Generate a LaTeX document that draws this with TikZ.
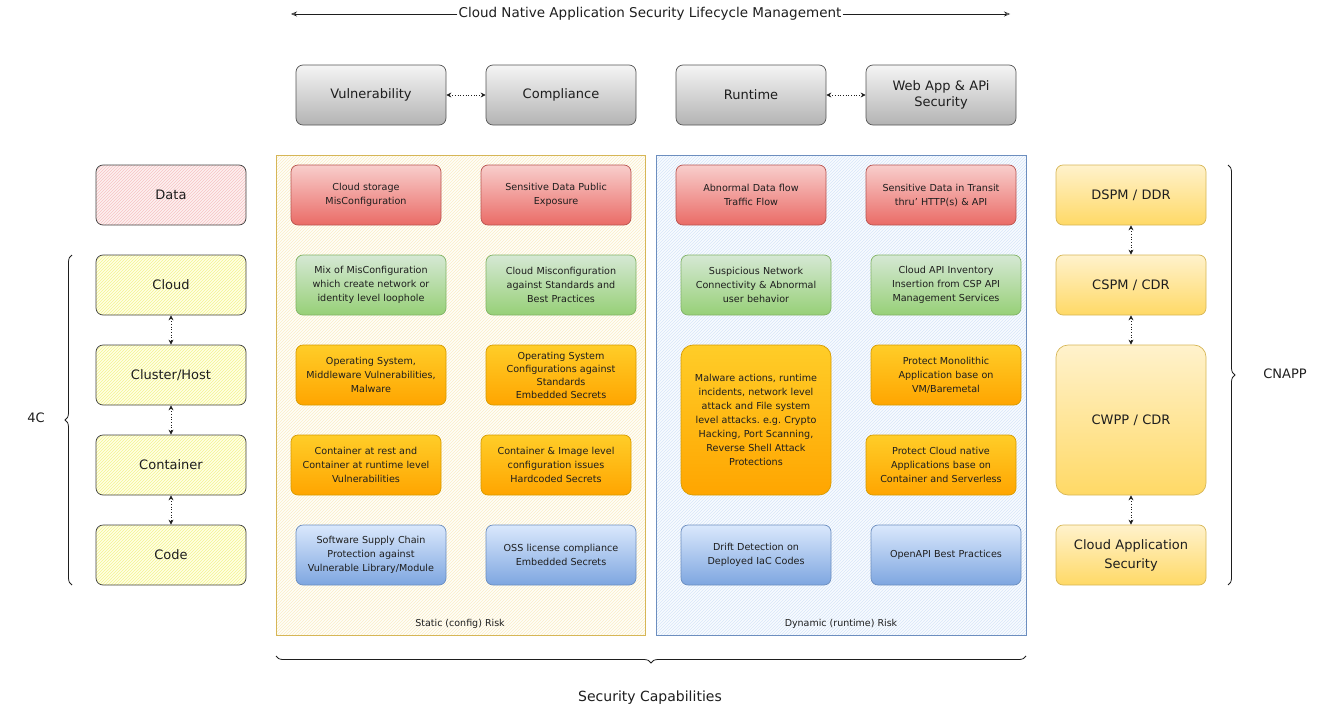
\documentclass[tikz,border=0pt]{standalone}
\usepackage{fontspec}
\setmainfont{DejaVu Sans}
\frenchspacing
\usetikzlibrary{arrows.meta,patterns,decorations.pathreplacing}
\definecolor{redT}{HTML}{F8CECC}\definecolor{redB}{HTML}{EA6B66}\definecolor{redD}{HTML}{B85450}
\definecolor{grnT}{HTML}{D5E8D4}\definecolor{grnB}{HTML}{97D077}\definecolor{grnD}{HTML}{82B366}
\definecolor{orgT}{HTML}{FFCD28}\definecolor{orgB}{HTML}{FFA500}\definecolor{orgD}{HTML}{D79B00}
\definecolor{bluT}{HTML}{DAE8FC}\definecolor{bluB}{HTML}{7EA6E0}\definecolor{bluD}{HTML}{6C8EBF}
\definecolor{gryT}{HTML}{F5F5F5}\definecolor{gryB}{HTML}{B3B3B3}\definecolor{gryD}{HTML}{555555}
\definecolor{ylwT}{HTML}{FFF2CC}\definecolor{ylwB}{HTML}{FFD966}\definecolor{ylwD}{HTML}{D6B656}
\definecolor{pinkF}{HTML}{FDF0F0}\definecolor{pinkP}{HTML}{F6C4C4}
\definecolor{lemF}{HTML}{FFFFE4}\definecolor{lemP}{HTML}{F4F490}
\definecolor{statF}{HTML}{FFFEF9}\definecolor{statP}{HTML}{FBEDC8}
\definecolor{dynF}{HTML}{F8FBFF}\definecolor{dynP}{HTML}{D8E6F8}
\definecolor{ink}{HTML}{1E1E1E}
\tikzset{
  cbox/.style={rectangle, rounded corners=7pt, minimum width=150pt, minimum height=60pt,
    align=center, text width=148pt, inner sep=1pt, font=\fontsize{9.6}{14}\selectfont, text=ink, line width=0.7pt},
  redbox/.style={cbox, top color=redT, bottom color=redB, draw=redD},
  grnbox/.style={cbox, top color=grnT, bottom color=grnB, draw=grnD},
  orgbox/.style={cbox, top color=orgT, bottom color=orgB, draw=orgD},
  blubox/.style={cbox, top color=bluT, bottom color=bluB, draw=bluD},
  grybox/.style={cbox, top color=gryT, bottom color=gryB, draw=gryD, font=\fontsize{13}{16}\selectfont},
  ylwbox/.style={cbox, top color=ylwT, bottom color=ylwB, draw=ylwD, font=\fontsize{13}{19}\selectfont},
  pinkbox/.style={cbox, preaction={fill=pinkF}, pattern=north east lines, pattern color=pinkP, draw=ink!85, font=\fontsize{13}{16}\selectfont},
  lembox/.style={cbox, preaction={fill=lemF}, pattern=north east lines, pattern color=lemP, draw=ink!85, font=\fontsize{13}{16}\selectfont},
  darr/.style={{Stealth[length=5pt,width=5pt]}-{Stealth[length=5pt,width=5pt]}, dotted, line width=0.7pt, ink},
  lbl/.style={font=\fontsize{13}{16}\selectfont, text=ink},
  small/.style={font=\fontsize{9.5}{11}\selectfont, text=ink},
  brc/.style={decorate, decoration={brace, amplitude=7pt}, line width=0.8pt, ink}
}
\begin{document}
\begin{tikzpicture}[x=1pt,y=-1pt]
\useasboundingbox (0,0) rectangle (1320,720);
% title
\node[lbl, font=\fontsize{13.5}{16}\selectfont, inner sep=1pt] (title) at (650,14) {Cloud Native Application Security Lifecycle Management};
\coordinate (tL) at (291,14);
\coordinate (tR) at (1010,14);
\draw[-{Stealth[open,length=6pt,width=5pt]}, line width=0.6pt, ink] (title.west) -- (tL);
\draw[-{Stealth[open,length=6pt,width=5pt]}, line width=0.6pt, ink] (title.east) -- (tR);
% top row
\node[grybox] (vul) at (371,95) {Vulnerability};
\node[grybox] (comp) at (561,95) {Compliance};
\node[grybox] (run) at (751,95) {Runtime};
\node[grybox] (web) at (941,95) {Web App \& APi\\Security};
\draw[darr] (vul.east) -- (comp.west);
\draw[darr] (run.east) -- (web.west);
% containers
\path[preaction={fill=statF}, pattern=north east lines, pattern color=statP, draw=ylwD, line width=0.8pt] (276,155) rectangle (645,635);
\path[preaction={fill=dynF}, pattern=north east lines, pattern color=dynP, draw=bluD, line width=0.8pt] (656,155) rectangle (1026,635);
\node[small] (stat) at (460,624) {Static (config) Risk};
\node[small] (dyn) at (841,624) {Dynamic (runtime) Risk};
% left column
\node[pinkbox] (data) at (171,195) {Data};
\node[lembox] (cloud) at (171,285) {Cloud};
\node[lembox] (clus) at (171,375) {Cluster/Host};
\node[lembox] (cont) at (171,465) {Container};
\node[lembox] (code) at (171,555) {Code};
\draw[darr] (cloud.south) -- (clus.north);
\draw[darr] (clus.south) -- (cont.north);
\draw[darr] (cont.south) -- (code.north);
\coordinate (bl1) at (72,585);
\coordinate (bl2) at (72,255);
\draw[brc] (bl1) -- (bl2);
\node[lbl] (fourc) at (36,418) {4C};
% row 1
\node[redbox] (r1a) at (366,195) {Cloud storage\\MisConfiguration};
\node[redbox] (r1b) at (556,195) {Sensitive Data Public\\Exposure};
\node[redbox] (r1c) at (751,195) {Abnormal Data flow\\Traffic Flow};
\node[redbox] (r1d) at (941,195) {Sensitive Data in Transit\\thru' HTTP(s) \& API};
% row 2
\node[grnbox] (g2a) at (371,285) {Mix of MisConfiguration\\which create network or\\identity level loophole};
\node[grnbox] (g2b) at (561,285) {Cloud Misconfiguration\\against Standards and\\Best Practices};
\node[grnbox] (g2c) at (756,285) {Suspicious Network\\Connectivity \& Abnormal\\user behavior};
\node[grnbox] (g2d) at (946,285) {Cloud API Inventory\\Insertion from CSP API\\Management Services};
% row 3
\node[orgbox] (o3a) at (371,375) {Operating System,\\Middleware Vulnerabilities,\\Malware};
\node[orgbox, font=\fontsize{9.6}{13}\selectfont] (o3b) at (561,375) {Operating System\\Configurations against\\Standards\\Embedded Secrets};
\node[orgbox, minimum height=150pt, rounded corners=12pt] (o3c) at (756,420) {Malware actions, runtime\\incidents, network level\\attack and File system\\level attacks.\ e.g.\ Crypto\\Hacking, Port Scanning,\\Reverse Shell Attack\\Protections};
\node[orgbox] (o3d) at (946,375) {Protect Monolithic\\Application base on\\VM/Baremetal};
% row 4
\node[orgbox] (o4a) at (366,465) {Container at rest and\\Container at runtime level\\Vulnerabilities};
\node[orgbox] (o4b) at (556,465) {Container \& Image level\\configuration issues\\Hardcoded Secrets};
\node[orgbox] (o4d) at (941,465) {Protect Cloud native\\Applications base on\\Container and Serverless};
% row 5
\node[blubox] (b5a) at (371,555) {Software Supply Chain\\Protection against\\Vulnerable Library/Module};
\node[blubox] (b5b) at (561,555) {OSS license compliance\\Embedded Secrets};
\node[blubox] (b5c) at (756,555) {Drift Detection on\\Deployed IaC Codes};
\node[blubox] (b5d) at (946,555) {OpenAPI Best Practices};
% right column
\node[ylwbox] (dspm) at (1131,195) {DSPM / DDR};
\node[ylwbox] (cspm) at (1131,285) {CSPM / CDR};
\node[ylwbox, minimum height=150pt, rounded corners=12pt] (cwpp) at (1131,420) {CWPP / CDR};
\node[ylwbox] (cas) at (1131,555) {Cloud Application\\Security};
\draw[darr] (dspm.south) -- (cspm.north);
\draw[darr] (cspm.south) -- (cwpp.north);
\draw[darr] (cwpp.south) -- (cas.north);
\coordinate (br1) at (1228,165);
\coordinate (br2) at (1228,585);
\draw[brc] (br1) -- (br2);
\node[lbl] (cnapp) at (1285,374) {CNAPP};
% bottom brace
\coordinate (bb1) at (1026,656);
\coordinate (bb2) at (276,656);
\draw[brc] (bb1) -- (bb2);
\node[lbl, font=\fontsize{14}{16}\selectfont] (seccap) at (650,698) {Security Capabilities};
\end{tikzpicture}
\end{document}
